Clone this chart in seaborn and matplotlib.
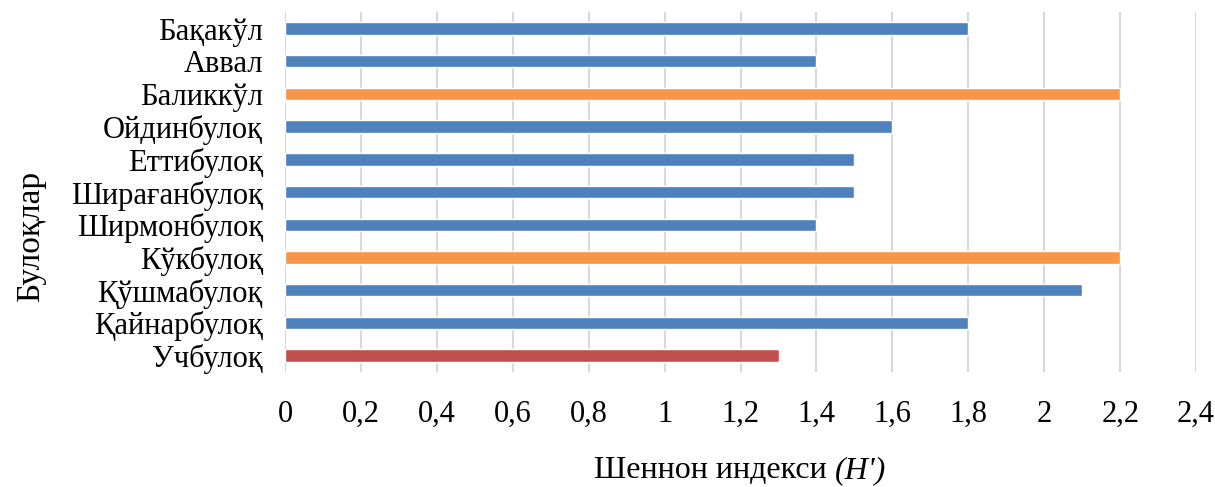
import matplotlib
matplotlib.use("Agg")
import matplotlib.pyplot as plt
import seaborn as sns
import pandas as pd

# data
springs = ["Бақакўл", "Аввал", "Баликкўл", "Ойдинбулоқ", "Еттибулоқ", "Ширағанбулоқ",
           "Ширмонбулоқ", "Кўкбулоқ", "Қўшмабулоқ", "Қайнарбулоқ", "Учбулоқ"]
shannon = [1.8, 1.4, 2.2, 1.6, 1.5, 1.5, 1.4, 2.2, 2.1, 1.8, 1.3]
groups = ["mid", "mid", "high", "mid", "mid", "mid", "mid", "high", "mid", "mid", "low"]
group_colors = {"mid": "#4F81BD", "high": "#F79646", "low": "#C0504D"}
xticks = [0, 0.2, 0.4, 0.6, 0.8, 1, 1.2, 1.4, 1.6, 1.8, 2, 2.2, 2.4]

sns.set_theme(style="white")
plt.rcParams['font.family'] = ['Liberation Serif', 'DejaVu Serif']
plt.rcParams['text.color'] = 'black'

df = pd.DataFrame({"spring": springs, "H": shannon, "group": groups})

fig = plt.figure(figsize=(12.15, 4.87), dpi=100)
ax = fig.add_axes([0.2346, 0.236, 0.7498, 0.739])

sns.barplot(data=df, y="spring", x="H", hue="group", palette=group_colors,
            orient="h", width=0.38, dodge=False, legend=False, ax=ax,
            order=springs, saturation=1)

ax.set_xlim(0, 2.4)
ax.set_xticks(xticks)
ax.set_xticklabels([f"{t:g}".replace(".", ",") for t in xticks])
ax.xaxis.grid(True, color="#D9D9D9", linewidth=1.5)
ax.yaxis.grid(False)
ax.set_axisbelow(True)
for s in ax.spines.values():
    s.set_visible(False)
ax.tick_params(axis="x", labelsize=22, pad=20, length=0, colors="black")
ax.tick_params(axis="y", labelsize=22, pad=16, length=0, colors="black")

ax.set_xlabel("")
ax.set_ylabel("")
fig.text(0.687, 0.033, "Шеннон индекси ", fontsize=23, ha="right", va="center", color="black")
fig.text(0.687, 0.033, "(H')", fontsize=23, ha="left", va="center", fontstyle="italic", color="black")
fig.text(0.025, 0.515, "Булоқлар", fontsize=24, rotation=90, ha="center", va="center", color="black")

fig.savefig("out.png", dpi=100)
